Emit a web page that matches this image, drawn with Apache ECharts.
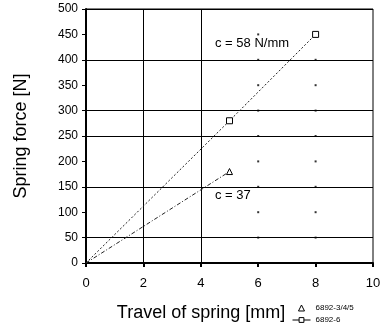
<!DOCTYPE html>
<html>
<head>
<meta charset="utf-8">
<script src="https://cdn.jsdelivr.net/npm/echarts@6/dist/echarts.min.js"></script>
<style>
  html, body { margin: 0; padding: 0; background: #fff; }
  #chart { width: 390px; height: 331px; }
</style>
</head>
<body>
<div id="chart"></div>
<script>
  // spring data
  var travel58 = [0, 5, 8];
  var force58 = [0, 280, 450];
  var travel37 = [0, 5];
  var force37 = [0, 180];
  var name58 = '6892-6';
  var name37 = '6892-3/4/5';

  // grid lines that are drawn solid, the rest only as dots
  var solidY = [50, 150, 250, 300, 400, 500];
  var solidX = [2, 4];
  var dotX = [6, 8];
  var dotY = [50, 100, 150, 200, 250, 300, 350, 400, 450];

  // origin point has no marker
  function toPoints(xs, ys) {
    var out = [];
    for (var i = 0; i < xs.length; i++) {
      var p = { value: [xs[i], ys[i]] };
      if (xs[i] == 0 && ys[i] == 0) p.symbol = 'none';
      out.push(p);
    }
    return out;
  }
  var pts58 = toPoints(travel58, force58);
  var pts37 = toPoints(travel37, force37);

  var dots = [], marks = [];
  for (var i = 0; i < dotX.length; i++)
    for (var j = 0; j < dotY.length; j++) dots.push([dotX[i], dotY[j]]);
  for (var i = 0; i < solidY.length; i++) marks.push({ yAxis: solidY[i] });
  for (var i = 0; i < solidX.length; i++) marks.push({ xAxis: solidX[i] });

  var font = 'Liberation Sans, Arial, sans-serif';
  var hollow = { color: '#fff', borderColor: '#000', borderWidth: 1 };
  // small triangle in the middle of a wide legend slot
  var smallTri = 'path://M0,0 L0.01,0 M18,0 L18.01,0 M9,0 L12,6 L6,6 Z';
  var myChart = echarts.init(document.getElementById('chart'));
  var option = {
    animation: false,
    grid: { left: 86, right: 17, top: 9, bottom: 68, show: true, borderColor: '#000', borderWidth: 1 },
    xAxis: {
      type: 'value', min: 0, max: 10, interval: 2,
      name: 'Travel of spring [mm]', nameLocation: 'middle', nameGap: 41,
      nameTextStyle: { fontFamily: font, fontSize: 18, color: '#000', padding: [0, 57, 0, 0] },
      axisLine: { onZero: false, lineStyle: { color: '#000', width: 2 } },
      axisTick: { length: 4, lineStyle: { color: '#000', width: 2 } },
      axisLabel: { fontFamily: font, fontSize: 13, color: '#000', margin: 14 },
      splitLine: { show: false }
    },
    yAxis: {
      type: 'value', min: 0, max: 500, interval: 50,
      name: 'Spring force [N]', nameLocation: 'middle', nameGap: 52,
      nameTextStyle: { fontFamily: font, fontSize: 18, color: '#000', padding: [0, 0, 4, 0] },
      axisLine: { onZero: false, lineStyle: { color: '#000', width: 2 } },
      axisTick: { length: 4, lineStyle: { color: '#000', width: 1 } },
      axisLabel: { fontFamily: font, fontSize: 12, color: '#000', margin: 8 },
      splitLine: { show: false }
    },
    legend: {
      orient: 'vertical', left: 292, top: 304, itemGap: 4,
      itemWidth: 18, itemHeight: 6, padding: 0,
      textStyle: { fontFamily: font, fontSize: 8, color: '#000' },
      data: [
        { name: name37, icon: smallTri, itemStyle: hollow, lineStyle: { opacity: 0 } },
        { name: name58, itemStyle: hollow, lineStyle: { type: 'solid', width: 1, color: '#000' } }
      ]
    },
    series: [
      {
        name: 'grid', type: 'scatter', data: dots, symbol: 'rect', symbolSize: 2,
        itemStyle: { color: '#000' }, silent: true,
        markLine: {
          silent: true, symbol: 'none', label: { show: false },
          lineStyle: { color: '#000', width: 1, type: 'solid' },
          data: marks
        }
      },
      {
        name: name58, type: 'line', data: pts58, symbol: 'rect', symbolSize: 6,
        showSymbol: true,
        lineStyle: { color: '#222', width: 1, type: [2, 2] },
        itemStyle: hollow,
        z: 5
      },
      {
        name: name37, type: 'line', data: pts37, symbol: 'triangle', symbolSize: 6,
        lineStyle: { color: '#222', width: 1, type: [4, 2, 1, 2] },
        itemStyle: hollow,
        z: 5
      }
    ],
    graphic: [
      { type: 'text', left: 215, top: 37, style: { text: 'c = 58 N/mm', font: '13px ' + font, fill: '#000' } },
      { type: 'text', left: 215, top: 189, style: { text: 'c = 37', font: '13px ' + font, fill: '#000' } }
    ]
  };
  myChart.setOption(option);
</script>
</body>
</html>
